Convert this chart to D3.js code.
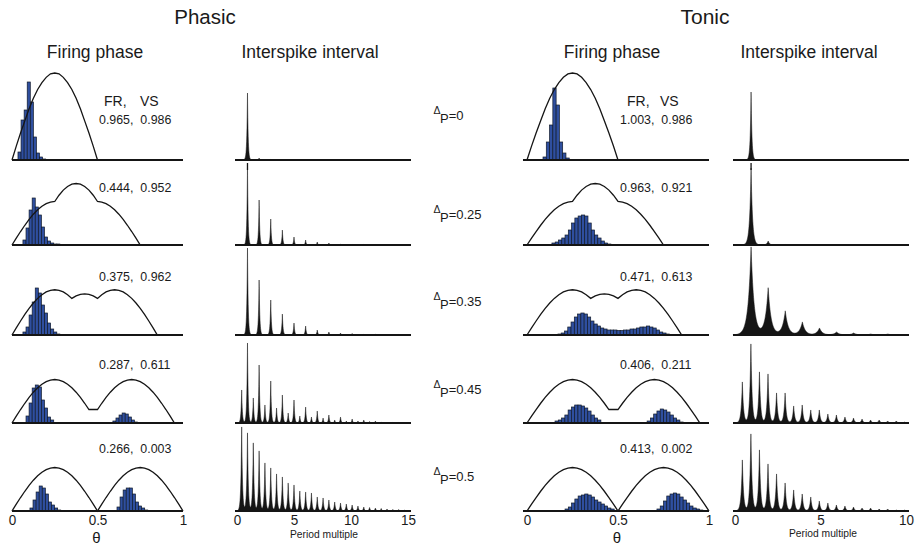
<!DOCTYPE html>
<html><head><meta charset="utf-8">
<script src="https://cdn.jsdelivr.net/npm/d3@7"></script>
<style>
html,body{margin:0;padding:0;background:#fff;}
svg{display:block;font-family:"Liberation Sans",Arial,Helvetica,sans-serif;}
</style></head><body>
<svg id="chart" width="917" height="546"></svg>
<script>
// ---------------- data ----------------
const deltas = ["0", "0.25", "0.35", "0.45", "0.5"];
const phaseGrid = d3.range(0, 1.0001, 0.025);

// drive envelope over one cycle (theta grid 0..1, step 0.025)
const envDelta0  = [0,.16,.31,.45,.59,.71,.81,.89,.95,.99,1,.99,.95,.89,.81,.71,.59,.45,.31,.16,0,0,0,0,0,0,0,0,0,0,0,0,0,0,0,0,0,0,0,0,0];
const envDelta25 = [0,.078,.155,.227,.294,.354,.405,.445,.476,.494,.5,.572,.631,.672,.699,.707,.699,.672,.631,.572,.5,.494,.476,.445,.405,.354,.294,.227,.155,.078,0,0,0,0,0,0,0,0,0,0,0];
const envDelta35 = [0,.081,.161,.236,.306,.368,.421,.463,.495,.514,.52,.514,.495,.463,.421,.449,.467,.472,.467,.449,.421,.463,.495,.514,.52,.514,.495,.463,.421,.368,.306,.236,.161,.081,0,0,0,0,0,0,0];
const envDelta45 = [0,.078,.155,.227,.294,.354,.405,.445,.476,.494,.5,.494,.476,.445,.405,.354,.294,.227,.155,.156,.155,.227,.294,.354,.405,.445,.476,.494,.5,.494,.476,.445,.405,.354,.294,.227,.155,.078,0,0,0];
const envDelta50 = [0,.078,.155,.227,.294,.354,.405,.445,.476,.494,.5,.494,.476,.445,.405,.354,.294,.227,.155,.078,0,.078,.155,.227,.294,.354,.405,.445,.476,.494,.5,.494,.476,.445,.405,.354,.294,.227,.155,.078,0];
const envelopes = [envDelta0, envDelta25, envDelta35, envDelta45, envDelta50];

// firing rate and vector strength
const phasicFR = [0.965, 0.444, 0.375, 0.287, 0.266];
const phasicVS = [0.986, 0.952, 0.962, 0.611, 0.003];
const tonicFR  = [1.003, 0.963, 0.471, 0.406, 0.413];
const tonicVS  = [0.986, 0.921, 0.613, 0.211, 0.002];

// firing-phase histograms: [first bin theta, counts]
const phasicHist = [
  [[0.035, [8, 40, 50, 78, 58, 23, 7, 3, 1]]],
  [[0.064, [5, 17, 35, 47, 38, 30, 18, 8, 4, 2, 1, 1, 0.5, 0.5, 0.5, 0.5, 0.5]]],
  [[0.064, [3, 8, 20, 33, 47, 42, 30, 22, 12, 6, 3, 1, 0.5, 0.5]]],
  [[0.082, [7, 20, 35, 38, 36, 23, 15, 6, 3]], [0.59, [2, 5, 8, 10, 9, 6, 3, 1]]],
  [[0.105, [3, 11, 19, 25, 23, 17, 9, 6, 3, 1]], [0.614, [4, 14, 21, 23, 23, 17, 9, 5, 3, 1]]]
];
const tonicHist = [
  [[0.088, [3, 18, 35, 72, 55, 18, 7, 2]]],
  [[0.137, [2, 3, 5, 7, 10, 15, 22, 27, 29, 30, 29, 22, 15, 10, 7, 4, 2, 1]]],
  [[0.17, [1, 2, 4, 8, 13, 18, 21, 22, 21, 18, 14, 11, 9, 7, 6, 5, 5, 5, 4.5, 4.5, 5, 5, 6, 6, 7, 8, 8, 9, 8, 7, 5, 3, 2, 1]]],
  [[0.154, [2, 3, 5, 8, 13, 16, 18, 18, 17, 15, 12, 8, 5, 3]], [0.66, [2, 5, 9, 12, 14, 13, 11, 8, 5, 3, 1]]],
  [[0.209, [2, 4, 8, 12, 15, 16, 17, 16, 14, 11, 9, 7, 5, 3, 2]], [0.714, [2, 5, 10, 15, 17, 18, 17, 14, 11, 8, 5, 3, 2, 1]]]
];

// interspike-interval peaks (heights), first peak position and peak spacing in period multiples
const phasicIsi = [
  [67, 2, 0.5],
  [80, 45, 26, 15, 8, 5, 3, 2, 1, 1, 0.5, 0.5, 0.5],
  [87, 55, 35, 21, 12, 9, 5, 3, 2, 1.5, 1, 1, 0.5, 0.5],
  [33, 80, 25, 58, 18, 42, 15, 28, 10, 23, 7, 16, 6, 12, 5, 8, 3, 6, 2, 4, 2, 3, 1.5, 2, 1, 1, 0.5, 0.5, 0.5],
  [84, 78, 68, 60, 48, 43, 37, 34, 28, 26, 20, 19, 18, 14, 13, 11, 9, 8, 7, 6, 5, 4, 3.5, 3, 2.5, 2, 1.5, 1.5, 1]
];
const phasicIsiFirst = [0.92, 0.92, 0.92, 0.41, 0.41];
const phasicIsiStep  = [1.02, 1.02, 1.02, 0.51, 0.51];
const phasicIsiWidth = [0.06, 0.055, 0.06, 0.06, 0.07];

const tonicIsi = [
  [68, 0.5],
  [77, 4, 0.5],
  [88, 47, 24, 13, 7, 3, 2, 1, 1],
  [41, 79, 51, 49, 30, 30, 17, 18, 13, 13, 9, 8, 6, 5, 4, 3, 3, 2, 2, 1],
  [51, 77, 61, 47, 37, 28, 21, 17, 14, 10, 8, 6, 5, 4, 3, 3, 2, 2, 1, 1]
];
const tonicIsiFirst = [0.94, 0.94, 0.94, 0.43, 0.43];
const tonicIsiStep  = [1, 1, 1, 0.5, 0.5];
const tonicIsiWidth = [0.05, 0.085, 0.17, 0.07, 0.07];

const phaseTicks = [0, 0.5, 1];
const phasicIsiTicks = [0, 5, 10, 15];
const tonicIsiTicks = [0, 5, 10];

// ---------------- layout ----------------
const rowBase = [160, 245, 335, 423, 511];
const statY = [124, 192, 281, 369, 453];
const deltaY = [120, 219, 306, 394, 481];
const binW = 0.018;
const ink = "#151515";
const barFill = "#2f4f9f";
const font = '"Liberation Sans", Arial, Helvetica, sans-serif';

const svg = d3.select("#chart");

const xPhasic = d3.scaleLinear().domain([0, 1]).range([12, 183]);
const xTonic = d3.scaleLinear().domain([0, 1]).range([527, 709]);
const xIsiPhasic = d3.scaleLinear().domain([0, 15]).range([237, 408]);
const xIsiTonic = d3.scaleLinear().domain([0, 10]).range([735, 906]);
const yEnv = d3.scaleLinear().domain([0, 1]).range([0, 87]);
const yCount = d3.scaleLinear().domain([0, 100]).range([0, 100]);

function text(x, y, str, size, anchor) {
  return svg.append("text").attr("x", x).attr("y", y).text(str)
    .attr("font-size", size).attr("text-anchor", anchor || "start").attr("fill", "#1a1a1a");
}

// headings
text(205, 23.5, "Phasic", 20.5, "middle");
text(705, 23.5, "Tonic", 21, "middle");
text(95, 57.5, "Firing phase", 17.5, "middle");
text(310, 57.5, "Interspike interval", 17.5, "middle");
text(612, 57.5, "Firing phase", 17.5, "middle");
text(809, 57.5, "Interspike interval", 17.5, "middle");

function phasePanel(x, row, hist, baseFrom) {
  const base = rowBase[row];
  const g = svg.append("g");
  hist.forEach(([start, counts]) => {
    g.selectAll(null).data(counts).enter().append("rect")
      .attr("x", (d, i) => x(start + i * binW))
      .attr("width", x(binW) - x(0))
      .attr("y", d => base - yCount(d))
      .attr("height", d => yCount(d))
      .attr("fill", barFill).attr("stroke", "#111a2a").attr("stroke-width", 0.7);
  });
  const line = d3.line().x((d, i) => x(phaseGrid[i])).y(d => base - yEnv(d));
  g.append("path").attr("d", line(envelopes[row]))
    .attr("fill", "none").attr("stroke", ink).attr("stroke-width", 1.3);
  g.append("line").attr("x1", x(baseFrom)).attr("x2", x(1)).attr("y1", base).attr("y2", base)
    .attr("stroke", ink).attr("stroke-width", 2);
}

function isiPanel(x, row, heights, first, step, w) {
  const base = rowBase[row];
  const peaks = heights.map((h, i) => ({ pos: first + i * step, h }));
  const [r0, r1] = x.range();
  const xs = d3.range(r0 - 2, r1 + 3, 0.2).map(px => x.invert(px));
  peaks.forEach(p => xs.push(p.pos));
  xs.sort((a, b) => a - b);
  const pts = xs.map(v => ({ v, c: d3.sum(peaks, p => p.h * Math.exp(-Math.abs(v - p.pos) / w)) }));
  const area = d3.area().x(d => x(d.v)).y0(base).y1(d => base - yCount(d.c));
  const g = svg.append("g");
  g.append("path").attr("d", area(pts)).attr("fill", ink).attr("stroke", ink).attr("stroke-width", 0.5);
  g.append("line").attr("x1", r0 - 2).attr("x2", r1 + 3).attr("y1", base).attr("y2", base)
    .attr("stroke", ink).attr("stroke-width", 2);
  if (row === 0) {
    g.append("line").attr("x1", x(first)).attr("x2", x(first)).attr("y1", base + 3).attr("y2", base + 10)
      .attr("stroke", ink).attr("stroke-width", 1.3);
  }
}

const fmt = d3.format(".3f");
deltas.forEach((d, row) => {
  phasePanel(xPhasic, row, phasicHist[row], 0);
  phasePanel(xTonic, row, tonicHist[row], -0.022);
  isiPanel(xIsiPhasic, row, phasicIsi[row], phasicIsiFirst[row], phasicIsiStep[row], phasicIsiWidth[row]);
  isiPanel(xIsiTonic, row, tonicIsi[row], tonicIsiFirst[row], tonicIsiStep[row], tonicIsiWidth[row]);

  text(99, statY[row], fmt(phasicFR[row]) + ",\u00a0\u00a0" + fmt(phasicVS[row]), 12.4);
  text(620, statY[row], fmt(tonicFR[row]) + ",\u00a0\u00a0" + fmt(tonicVS[row]), 12.4);

  // delta label: small raised Delta with subscript P
  const t = svg.append("text").attr("fill", "#1a1a1a").attr("font-size", 13);
  t.append("tspan").attr("x", 433.5).attr("y", deltaY[row] - 6.5).attr("font-size", 10.5).text("\u0394");
  t.append("tspan").attr("x", 440).attr("y", deltaY[row] + 3).text("P");
  t.append("tspan").attr("y", deltaY[row]).text("=" + d);
});

// column header for the statistics
text(104, 106, "FR,", 14);
text(140, 106, "VS", 14);
text(627, 106, "FR,", 14);
text(660, 106, "VS", 14);

// bottom axes
function bottomAxis(x, ticks, fmtTick) {
  const g = svg.append("g").attr("transform", `translate(0,${rowBase[4]})`)
    .call(d3.axisBottom(x).tickValues(ticks).tickSize(0).tickPadding(3).tickFormat(fmtTick));
  g.select(".domain").remove();
  g.attr("font-size", 15).attr("font-family", font);
  g.selectAll("text").attr("fill", "#1a1a1a").attr("transform", "scale(0.9,1)");
}
bottomAxis(xPhasic, phaseTicks, d3.format("~g"));
bottomAxis(xTonic, phaseTicks, d3.format("~g"));
bottomAxis(xIsiPhasic, phasicIsiTicks, d3.format("d"));
bottomAxis(xIsiTonic, tonicIsiTicks, d3.format("d"));

text(xPhasic(0.5) - 1, 543, "\u03b8", 15, "middle");
text(xTonic(0.5) - 1, 543, "\u03b8", 15, "middle");
text(324, 538, "Period multiple", 11.5, "middle").attr("textLength", 68).attr("lengthAdjust", "spacingAndGlyphs");
text(823, 537, "Period multiple", 11.5, "middle").attr("textLength", 68).attr("lengthAdjust", "spacingAndGlyphs");
</script>
</body></html>
